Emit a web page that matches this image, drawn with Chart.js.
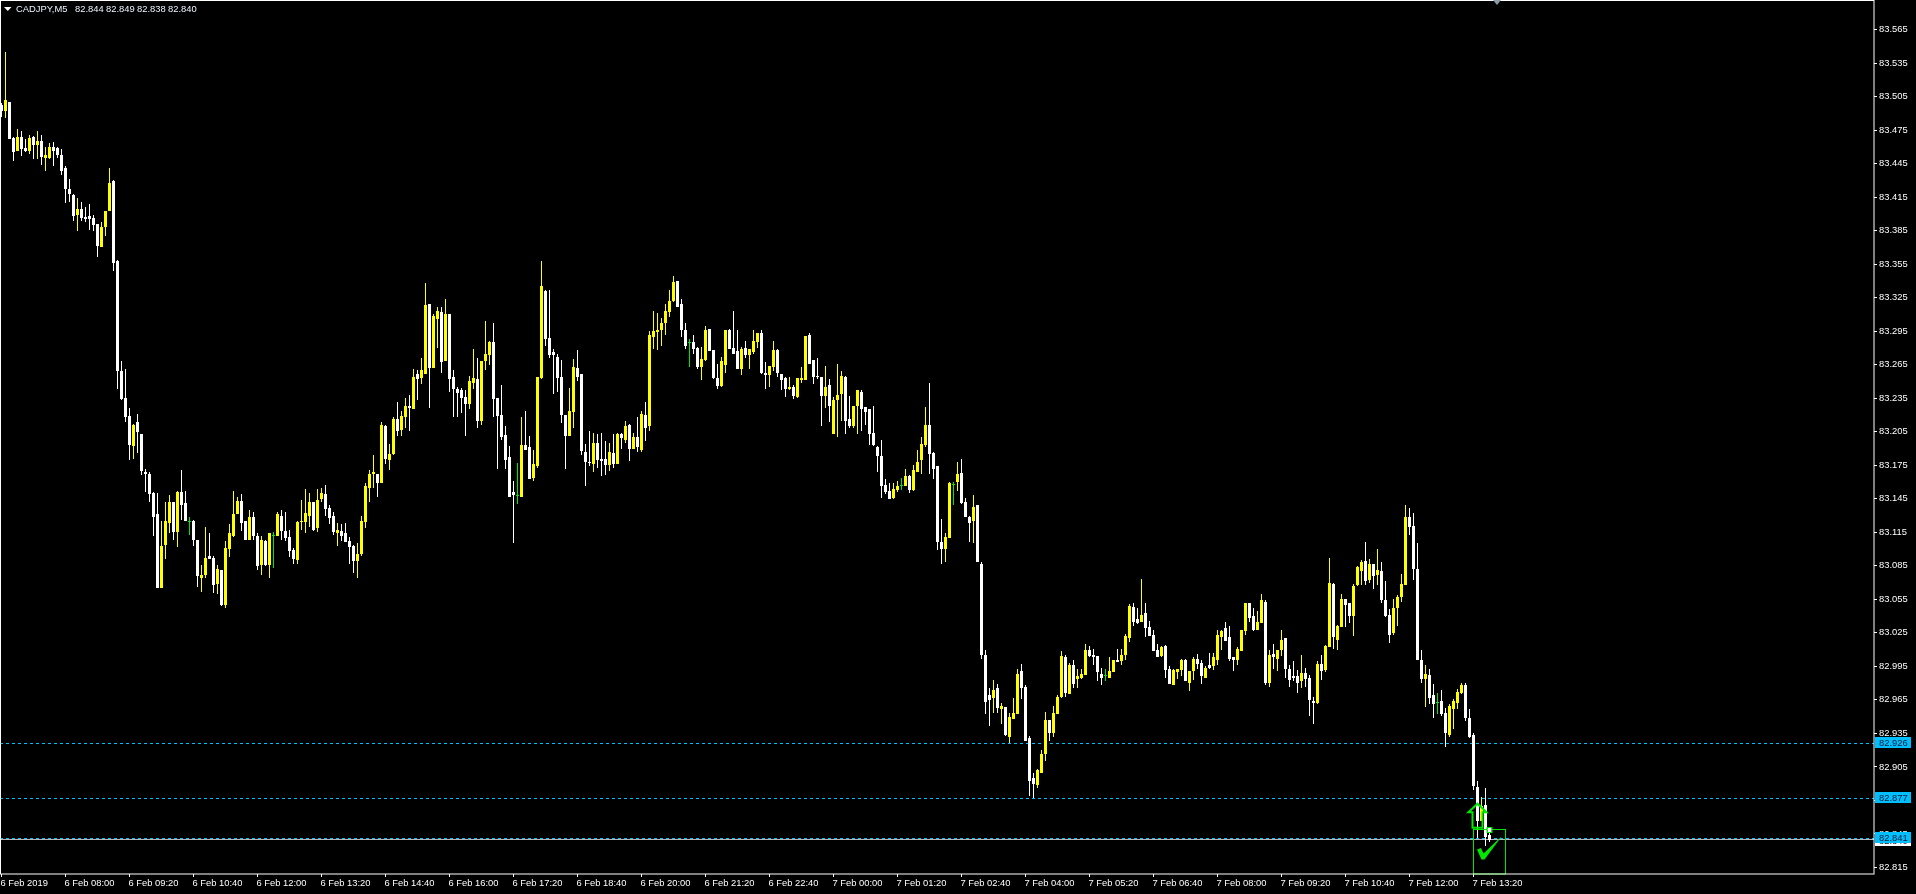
<!DOCTYPE html>
<html>
<head>
<meta charset="utf-8">
<title>CADJPY,M5</title>
<script src="https://cdn.jsdelivr.net/npm/chart.js@4"></script>
<style>
	html, body { margin: 0; padding: 0; background: #000; overflow: hidden; }
	canvas { display: block; }
</style>
</head>
<body>
<canvas id="main_chart" width="1916" height="894"></canvas>
<script>
const symbolTitle = 'CADJPY,M5'
const headerValues = ['82.844', '82.849', '82.838', '82.840']

// candles, one column every 5 minutes
const opens = [
	83.497,83.492,83.500,83.468,83.456,83.469,83.459,83.456,83.469,83.462,
	83.465,83.450,83.450,83.460,83.459,83.453,83.441,83.422,83.417,83.399,
	83.404,83.397,83.398,83.396,83.391,83.370,83.388,83.403,83.429,83.358,
	83.259,83.235,83.219,83.192,83.214,83.203,83.169,83.167,83.150,83.131,
	83.065,83.104,83.123,83.142,83.115,83.151,83.141,83.125,83.125,83.108,
	83.074,83.077,83.094,83.092,83.069,83.081,83.050,83.100,83.112,83.131,
	83.143,83.125,83.108,83.129,83.112,83.086,83.107,83.086,83.113,83.112,
	83.130,83.116,83.111,83.099,83.090,83.124,83.124,83.130,83.142,83.119,
	83.145,83.149,83.137,83.130,83.114,83.116,83.114,83.107,83.103,83.089,
	83.096,83.124,83.155,83.167,83.167,83.159,83.210,83.180,83.185,83.216,
	83.207,83.218,83.228,83.225,83.257,83.253,83.257,83.319,83.262,83.306,
	83.312,83.268,83.310,83.254,83.243,83.242,83.236,83.230,83.249,83.252,
	83.215,83.268,83.274,83.285,83.235,83.220,83.202,83.182,83.151,83.148,
	83.147,83.193,83.191,83.164,83.174,83.253,83.331,83.289,83.276,83.272,
	83.254,83.220,83.201,83.223,83.262,83.257,83.187,83.178,83.176,83.195,
	83.181,83.181,83.175,83.186,83.176,83.203,83.198,83.211,83.190,83.200,
	83.189,83.220,83.210,83.290,83.294,83.296,83.302,83.312,83.322,83.340,
	83.319,83.296,83.285,83.285,83.280,83.263,83.269,83.297,83.278,83.253,
	83.246,83.265,83.296,83.280,83.277,83.261,83.280,83.274,83.276,83.285,
	83.293,83.258,83.256,83.263,83.278,83.257,83.253,83.243,83.245,83.236,
	83.251,83.251,83.292,83.269,83.255,83.254,83.237,83.247,83.203,83.233,
	83.239,83.254,83.216,83.210,83.228,83.241,83.227,83.225,83.204,83.191,
	83.183,83.157,83.152,83.146,83.153,83.157,83.156,83.165,83.153,83.169,
	83.180,83.193,83.211,83.186,83.174,83.106,83.100,83.110,83.158,83.160,
	83.168,83.142,83.129,83.125,83.139,83.087,83.005,82.969,82.967,82.976,
	82.957,82.959,82.932,82.948,82.952,82.991,82.977,82.931,82.895,82.889,
	82.900,82.917,82.947,82.935,82.952,82.968,83.003,82.970,82.996,82.984,
	82.985,82.987,83.010,83.005,83.004,82.988,82.987,82.985,82.990,83.001,
	83.000,83.005,83.020,83.048,83.037,83.035,83.043,83.030,83.023,83.010,
	83.004,83.013,82.993,82.978,82.990,82.992,83.001,82.980,82.991,83.002,
	82.998,82.985,82.996,82.995,83.001,83.021,83.029,83.021,83.003,83.001,
	83.009,83.027,83.052,83.040,83.028,83.034,83.053,82.980,83.006,83.002,
	83.010,83.020,82.993,82.986,82.986,82.982,82.989,82.985,82.964,82.962,
	82.997,82.992,83.012,83.069,83.019,83.030,83.055,83.052,83.040,83.068,
	83.080,83.089,83.072,83.087,83.077,83.080,83.054,83.041,83.025,83.047,
	83.057,83.068,83.129,83.121,83.082,83.001,82.984,82.987,82.969,82.963,
	82.964,82.953,82.934,82.957,82.962,82.971,82.978,82.949,82.934,82.887,
	82.857,82.871,82.844,
]
const highs = [
	83.499,83.545,83.500,83.469,83.476,83.474,83.467,83.471,83.470,83.474,
	83.471,83.460,83.463,83.464,83.460,83.458,83.443,83.431,83.418,83.414,
	83.411,83.406,83.409,83.399,83.391,83.393,83.403,83.441,83.430,83.359,
	83.268,83.261,83.226,83.212,83.221,83.203,83.172,83.169,83.151,83.150,
	83.125,83.142,83.148,83.142,83.152,83.171,83.152,83.129,83.126,83.108,
	83.086,83.120,83.114,83.094,83.086,83.081,83.107,83.122,83.152,83.147,
	83.149,83.125,83.135,83.133,83.114,83.112,83.108,83.114,83.115,83.133,
	83.135,83.133,83.117,83.101,83.125,83.144,83.154,83.150,83.142,83.154,
	83.155,83.157,83.139,83.133,83.123,83.122,83.123,83.111,83.104,83.105,
	83.130,83.159,83.171,83.184,83.167,83.214,83.211,83.194,83.218,83.232,
	83.224,83.235,83.238,83.261,83.260,83.271,83.338,83.319,83.310,83.317,
	83.317,83.324,83.310,83.260,83.245,83.244,83.242,83.255,83.279,83.271,
	83.268,83.304,83.286,83.302,83.235,83.247,83.210,83.192,83.161,83.177,
	83.218,83.224,83.201,83.189,83.254,83.358,83.332,83.332,83.279,83.275,
	83.269,83.220,83.244,83.270,83.278,83.257,83.194,83.206,83.204,83.203,
	83.204,83.197,83.195,83.203,83.204,83.204,83.215,83.212,83.204,83.218,
	83.224,83.232,83.295,83.313,83.311,83.307,83.319,83.332,83.344,83.340,
	83.324,83.302,83.288,83.292,83.281,83.281,83.300,83.297,83.278,83.266,
	83.272,83.296,83.297,83.313,83.296,83.281,83.286,83.279,83.296,83.293,
	83.296,83.267,83.264,83.286,83.279,83.257,83.254,83.254,83.247,83.253,
	83.263,83.291,83.293,83.269,83.271,83.254,83.264,83.252,83.236,83.266,
	83.259,83.255,83.237,83.228,83.242,83.242,83.227,83.225,83.228,83.192,
	83.198,83.163,83.159,83.159,83.161,83.164,83.172,83.166,83.175,83.189,
	83.200,83.227,83.249,83.187,83.174,83.127,83.114,83.160,83.160,83.178,
	83.181,83.146,83.130,83.148,83.139,83.088,83.010,82.976,82.983,82.979,
	82.962,82.959,82.953,82.967,82.993,82.997,82.978,82.933,82.900,82.903,
	82.920,82.954,82.947,82.960,82.969,83.009,83.005,82.998,83.001,82.993,
	82.993,83.015,83.013,83.011,83.004,82.994,82.993,83.003,83.001,83.011,
	83.011,83.024,83.051,83.052,83.047,83.073,83.052,83.036,83.028,83.015,
	83.013,83.014,82.995,82.993,82.993,83.002,83.002,82.991,83.003,83.006,
	83.001,82.995,83.007,83.007,83.028,83.028,83.035,83.031,83.003,83.012,
	83.028,83.052,83.052,83.047,83.045,83.060,83.054,83.010,83.015,83.010,
	83.028,83.020,82.996,83.000,82.992,83.005,82.994,82.987,82.968,83.000,
	83.005,83.014,83.092,83.070,83.032,83.060,83.055,83.052,83.069,83.085,
	83.090,83.106,83.091,83.087,83.100,83.088,83.071,83.046,83.055,83.059,
	83.078,83.139,83.137,83.132,83.105,83.010,82.996,82.993,82.979,82.971,
	82.974,82.958,82.961,82.966,82.975,82.980,82.980,82.957,82.935,82.892,
	82.878,82.886,82.849,
]
const lows = [
	83.487,83.486,83.467,83.447,83.456,83.452,83.455,83.454,83.449,83.449,
	83.444,83.438,83.449,83.443,83.450,83.435,83.410,83.411,83.394,83.385,
	83.394,83.393,83.386,83.385,83.361,83.370,83.380,83.403,83.349,83.243,
	83.233,83.214,83.180,83.181,83.186,83.166,83.151,83.142,83.112,83.065,
	83.065,83.091,83.114,83.108,83.102,83.126,83.125,83.113,83.103,83.066,
	83.062,83.074,83.091,83.061,83.060,83.049,83.047,83.093,83.111,83.131,
	83.116,83.108,83.108,83.108,83.081,83.077,83.085,83.074,83.083,83.112,
	83.108,83.107,83.093,83.087,83.087,83.117,83.114,83.120,83.116,83.115,
	83.142,83.130,83.122,83.113,83.103,83.107,83.106,83.087,83.079,83.074,
	83.094,83.119,83.142,83.155,83.147,83.159,83.176,83.171,83.184,83.201,
	83.201,83.208,83.206,83.225,83.233,83.248,83.257,83.226,83.262,83.280,
	83.258,83.268,83.241,83.218,83.218,83.222,83.201,83.225,83.243,83.208,
	83.211,83.260,83.265,83.218,83.172,83.198,83.172,83.147,83.105,83.140,
	83.147,83.189,83.163,83.161,83.173,83.252,83.282,83.271,83.239,83.241,
	83.213,83.172,83.201,83.208,83.250,83.184,83.156,83.174,83.169,83.173,
	83.165,83.166,83.170,83.173,83.176,83.190,83.195,83.179,83.190,83.187,
	83.187,83.197,83.206,83.279,83.278,83.282,83.292,83.308,83.321,83.317,
	83.290,83.279,83.263,83.275,83.261,83.251,83.268,83.277,83.252,83.243,
	83.245,83.258,83.279,83.275,83.261,83.256,83.271,83.261,83.275,83.280,
	83.257,83.243,83.245,83.259,83.254,83.242,83.236,83.242,83.234,83.235,
	83.249,83.251,83.266,83.248,83.252,83.210,83.226,83.214,83.203,83.200,
	83.215,83.203,83.208,83.208,83.203,83.206,83.211,83.193,83.192,83.169,
	83.146,83.149,83.145,83.145,83.151,83.153,83.156,83.150,83.152,83.169,
	83.167,83.191,83.167,83.163,83.099,83.087,83.088,83.110,83.139,83.152,
	83.140,83.129,83.106,83.105,83.088,83.002,82.952,82.942,82.953,82.953,
	82.943,82.933,82.926,82.948,82.952,82.966,82.928,82.879,82.877,82.886,
	82.900,82.910,82.928,82.932,82.952,82.967,82.968,82.970,82.976,82.976,
	82.984,82.987,83.003,82.996,82.982,82.978,82.982,82.985,82.990,82.999,
	82.996,83.001,83.017,83.031,83.033,83.035,83.021,83.022,83.009,83.003,
	83.003,82.985,82.979,82.978,82.984,82.986,82.982,82.973,82.983,82.993,
	82.979,82.985,82.993,82.992,82.996,83.010,83.018,83.000,82.991,82.996,
	83.009,83.023,83.035,83.027,83.028,83.034,82.978,82.977,82.993,82.991,
	83.004,82.985,82.977,82.982,82.971,82.976,82.977,82.951,82.943,82.961,
	82.983,82.990,83.012,83.011,83.010,83.030,83.030,83.034,83.022,83.067,
	83.068,83.068,83.070,83.064,83.068,83.052,83.039,83.016,83.023,83.031,
	83.053,83.068,83.113,83.072,83.001,82.980,82.959,82.961,82.949,82.952,
	82.951,82.923,82.932,82.939,82.957,82.970,82.946,82.931,82.884,82.841,
	82.857,82.834,82.838,
]
const closes = [
	83.492,83.502,83.467,83.455,83.469,83.458,83.456,83.468,83.462,83.465,
	83.451,83.453,83.460,83.456,83.453,83.438,83.422,83.418,83.398,83.404,
	83.396,83.395,83.395,83.390,83.371,83.388,83.403,83.428,83.356,83.259,
	83.234,83.218,83.193,83.211,83.205,83.170,83.167,83.149,83.129,83.065,
	83.103,83.125,83.142,83.115,83.151,83.139,83.125,83.125,83.108,83.076,
	83.077,83.092,83.091,83.068,83.082,83.050,83.101,83.114,83.131,83.143,
	83.123,83.108,83.129,83.112,83.085,83.108,83.086,83.114,83.113,83.131,
	83.116,83.110,83.098,83.091,83.124,83.125,83.132,83.142,83.117,83.144,
	83.150,83.136,83.128,83.115,83.117,83.112,83.106,83.102,83.089,83.096,
	83.125,83.156,83.167,83.169,83.159,83.211,83.181,83.185,83.216,83.206,
	83.219,83.228,83.226,83.254,83.252,83.260,83.318,83.262,83.309,83.313,
	83.267,83.310,83.252,83.243,83.240,83.235,83.230,83.250,83.253,83.215,
	83.268,83.275,83.285,83.234,83.219,83.200,83.180,83.147,83.148,83.148,
	83.193,83.189,83.163,83.176,83.254,83.335,83.288,83.274,83.274,83.253,
	83.220,83.201,83.224,83.263,83.254,83.188,83.178,83.177,83.195,83.180,
	83.179,83.175,83.187,83.176,83.203,83.199,83.210,83.190,83.200,83.191,
	83.221,83.208,83.292,83.295,83.296,83.302,83.313,83.322,83.339,83.317,
	83.296,83.282,83.285,83.279,83.263,83.270,83.296,83.277,83.253,83.246,
	83.268,83.296,83.279,83.275,83.261,83.279,83.274,83.279,83.286,83.293,
	83.258,83.256,83.264,83.278,83.258,83.251,83.243,83.245,83.237,83.253,
	83.253,83.291,83.266,83.254,83.254,83.237,83.245,83.228,83.233,83.238,
	83.255,83.215,83.210,83.228,83.242,83.225,83.223,83.203,83.193,83.183,
	83.156,83.151,83.145,83.154,83.156,83.157,83.165,83.153,83.171,83.178,
	83.194,83.211,83.185,83.172,83.106,83.100,83.111,83.159,83.158,83.167,
	83.141,83.129,83.123,83.138,83.088,83.005,82.963,82.965,82.974,82.958,
	82.960,82.934,82.950,82.953,82.988,82.976,82.928,82.892,82.890,82.902,
	82.917,82.947,82.935,82.953,82.968,83.004,82.971,82.996,82.979,82.986,
	82.988,83.010,83.004,83.003,82.990,82.985,82.987,82.991,83.001,82.999,
	83.005,83.022,83.049,83.035,83.034,83.041,83.029,83.022,83.009,83.003,
	83.012,82.992,82.979,82.992,82.993,83.001,82.982,82.991,83.002,82.997,
	82.986,82.994,82.994,83.003,83.023,83.027,83.018,83.002,83.001,83.011,
	83.028,83.052,83.038,83.028,83.035,83.054,82.980,83.005,83.003,83.010,
	83.019,82.993,82.983,82.985,82.980,82.989,82.984,82.965,82.962,82.997,
	82.991,83.013,83.070,83.021,83.031,83.055,83.050,83.040,83.067,83.084,
	83.088,83.071,83.087,83.076,83.081,83.054,83.040,83.023,83.047,83.057,
	83.069,83.129,83.120,83.082,83.001,82.984,82.988,82.967,82.961,82.963,
	82.952,82.935,82.960,82.964,82.972,82.978,82.949,82.932,82.888,82.857,
	82.870,82.842,82.840,
]

// axis labels, a time label every 16 candles
const timeTicks = [0, 16, 32, 48, 64, 80, 96, 112, 128, 144, 160, 176, 192, 208, 224, 240, 256, 272, 288, 304, 320, 336, 352, 368]
const timeLabels = [
	'6 Feb 2019', '6 Feb 08:00', '6 Feb 09:20', '6 Feb 10:40', '6 Feb 12:00', '6 Feb 13:20',
	'6 Feb 14:40', '6 Feb 16:00', '6 Feb 17:20', '6 Feb 18:40', '6 Feb 20:00', '6 Feb 21:20',
	'6 Feb 22:40', '7 Feb 00:00', '7 Feb 01:20', '7 Feb 02:40', '7 Feb 04:00', '7 Feb 05:20',
	'7 Feb 06:40', '7 Feb 08:00', '7 Feb 09:20', '7 Feb 10:40', '7 Feb 12:00', '7 Feb 13:20',
]
const priceTicks = [
	83.565, 83.535, 83.505, 83.475, 83.445, 83.415, 83.385, 83.355, 83.325, 83.295,
	83.265, 83.235, 83.205, 83.175, 83.145, 83.115, 83.085, 83.055, 83.025, 82.995,
	82.965, 82.935, 82.905, 82.875, 82.845, 82.815,
]
// horizontal levels and the current bid
const levelPrices = [82.926, 82.877, 82.841]
const bidPrice = 82.840
// the trade box and the arrow, in candle index and price
const boxFrom = 368
const boxTo = 376
const boxTop = 82.849
const arrowIndex = 369
const arrowPrice = 82.873

const UP = '#ffff00'
const DOWN = '#ffffff'
const DOJI = '#00e800'
const LEVEL = '#00bfff'
const MARK = '#00e800'
const AXIS_FONT = { family: 'Liberation Sans', size: 9.4 }

const xMin = -0.375
const xMax = 468.125

const candleColor = opens.map((open, i) => (closes[i] > open ? UP : closes[i] < open ? DOWN : DOJI))
const wicks = opens.map((open, i) => ({ x: i, y: [lows[i], highs[i]] }))
const bodies = opens.map((open, i) => ({ x: i, y: [open, closes[i]] }))

function levelDataset(price, color, dash, order) {
	return {
		type: 'line',
		data: [{ x: xMin, y: price }, { x: xMax, y: price }],
		borderColor: color,
		borderWidth: 1,
		borderDash: dash,
		pointRadius: 0,
		order,
	}
}

// MT4 draws on whole pixels, so snap the marks before they get painted
const snapPlugin = {
	id: 'snap',
	afterDatasetsUpdate(chart) {
		chart.data.datasets.forEach((dataset, index) => {
			chart.getDatasetMeta(index).data.forEach(el => {
				if (dataset.type === 'line') {
					el.y = Math.floor(el.y) + 0.5
					return
				}
				el.y = Math.round(el.y)
				el.base = Math.round(el.base)
				if (el.y === el.base) el.base += 1
			})
		})
	},
}

function priceLabel(ctx, text, y, color) {
	ctx.fillStyle = color
	ctx.fillRect(1875, Math.round(y) - 6, 36, 11)
	ctx.fillStyle = '#001a33'
	ctx.textAlign = 'left'
	ctx.textBaseline = 'middle'
	ctx.fillText(text, 1879, Math.round(y))
}

// frame, header text, price tags and the green objects
const overlayPlugin = {
	id: 'overlay',
	afterDraw(chart) {
		const { ctx, scales } = chart
		const xs = scales.x
		const ys = scales.y
		const bottom = chart.chartArea.bottom
		ctx.save()

		// green box on top of the last candles
		const boxLeft = Math.floor(xs.getPixelForValue(boxFrom)) + 0.5
		const boxRight = Math.floor(xs.getPixelForValue(boxTo)) + 0.5
		const boxY = Math.floor(ys.getPixelForValue(boxTop)) + 0.5
		ctx.strokeStyle = MARK
		ctx.lineWidth = 1
		ctx.strokeRect(boxLeft, boxY, boxRight - boxLeft, bottom - boxY)

		// anchor point in the middle of the box top
		const midX = (boxLeft + boxRight) / 2
		ctx.fillStyle = '#fff'
		ctx.fillRect(midX - 2, boxY - 1.5, 4, 4)
		ctx.strokeRect(midX - 2.5, boxY - 2, 5, 5)

		// tick mark in the box
		ctx.fillStyle = MARK
		ctx.beginPath()
		ctx.moveTo(boxLeft + 3.5, boxY + 20)
		ctx.lineTo(boxLeft + 7.5, boxY + 18.5)
		ctx.lineTo(boxLeft + 10, boxY + 24)
		ctx.lineTo(boxLeft + 28.5, boxY + 6.5)
		ctx.lineTo(boxLeft + 11, boxY + 30)
		ctx.lineTo(boxLeft + 8, boxY + 30)
		ctx.closePath()
		ctx.fill()

		// hollow up arrow
		const ax = xs.getPixelForValue(arrowIndex)
		const ay = ys.getPixelForValue(arrowPrice)
		ctx.lineWidth = 2
		ctx.beginPath()
		ctx.moveTo(ax, ay + 1)
		ctx.lineTo(ax + 9, ay + 9.5)
		ctx.lineTo(ax + 5, ay + 9.5)
		ctx.lineTo(ax + 5, ay + 25)
		ctx.lineTo(ax - 5, ay + 25)
		ctx.lineTo(ax - 5, ay + 9.5)
		ctx.lineTo(ax - 9, ay + 9.5)
		ctx.closePath()
		ctx.stroke()

		// white frame round the plot
		ctx.strokeStyle = '#fff'
		ctx.lineWidth = 1
		ctx.strokeRect(0.5, 0.5, chart.chartArea.right - 0.5, bottom - 0.5)

		// price tags
		ctx.font = `${AXIS_FONT.size}px "${AXIS_FONT.family}"`
		priceLabel(ctx, bidPrice.toFixed(3), ys.getPixelForValue(bidPrice) + 1, '#ffffff')
		levelPrices.forEach(price => {
			priceLabel(ctx, price.toFixed(3), ys.getPixelForValue(price), LEVEL)
		})

		// header
		ctx.fillStyle = '#fff'
		ctx.beginPath()
		ctx.moveTo(4, 7)
		ctx.lineTo(11.5, 7)
		ctx.lineTo(7.75, 11)
		ctx.closePath()
		ctx.fill()
		ctx.fillStyle = '#eaf4ff'
		ctx.textBaseline = 'middle'
		ctx.fillText(symbolTitle, 16, 9)
		headerValues.forEach((value, i) => ctx.fillText(value, 75 + i * 31, 9))

		// small scroll marker on the top edge
		ctx.fillStyle = '#8a9aa6'
		ctx.beginPath()
		ctx.moveTo(1493, 0)
		ctx.lineTo(1501, 0)
		ctx.lineTo(1497, 5)
		ctx.closePath()
		ctx.fill()
		ctx.restore()
	},
}

new Chart(document.getElementById('main_chart'), {
	type: 'bar',
	data: {
		datasets: [
			{
				data: bodies,
				backgroundColor: candleColor,
				barThickness: 3,
				inflateAmount: 0,
				grouped: false,
				order: 1,
			},
			{
				data: wicks,
				backgroundColor: candleColor,
				barThickness: 1,
				inflateAmount: 0,
				grouped: false,
				order: 2,
			},
			levelDataset(bidPrice, '#b8b8b8', [], 4),
			...levelPrices.map(price => levelDataset(price, LEVEL, [3, 3], 3)),
		],
	},
	options: {
		responsive: false,
		animation: false,
		devicePixelRatio: 1,
		layout: {
			autoPadding: false,
			padding: { top: 1, left: 0, right: 0, bottom: 0 },
		},
		plugins: {
			legend: false,
			title: false,
			tooltip: { enabled: false },
		},
		scales: {
			x: {
				type: 'linear',
				bounds: 'data',
				min: xMin,
				max: xMax,
				offset: false,
				afterFit: scale => {
					scale.height = 20
					scale.paddingLeft = 0
					scale.paddingRight = 0
				},
				afterBuildTicks: scale => { scale.ticks = timeTicks.map(value => ({ value })) },
				border: { display: false },
				grid: { offset: false, drawOnChartArea: false, tickLength: 3, tickColor: '#fff' },
				ticks: {
					autoSkip: false,
					maxRotation: 0,
					align: 'start',
					padding: 1,
					labelOffset: -1,
					color: '#fff',
					font: AXIS_FONT,
					callback: (value, index) => timeLabels[index],
				},
			},
			y: {
				type: 'linear',
				position: 'right',
				bounds: 'data',
				min: 82.8092,
				max: 83.5905,
				afterFit: scale => {
					scale.width = 42
					scale.paddingTop = 0
					scale.paddingBottom = 0
				},
				afterBuildTicks: scale => { scale.ticks = priceTicks.map(value => ({ value })) },
				border: { display: false },
				grid: { drawOnChartArea: false, tickLength: 3, tickColor: '#fff' },
				ticks: {
					autoSkip: false,
					padding: 2,
					color: '#fff',
					font: AXIS_FONT,
					callback: value => value.toFixed(3),
				},
			},
		},
	},
	plugins: [snapPlugin, overlayPlugin],
})
</script>
</body>
</html>
